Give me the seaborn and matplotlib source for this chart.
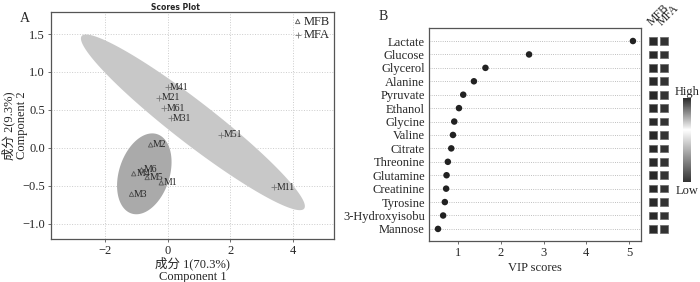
import numpy as np
import pandas as pd
import matplotlib
matplotlib.use("Agg")
import matplotlib.pyplot as plt
from matplotlib.colors import LinearSegmentedColormap, Normalize
from matplotlib.cm import ScalarMappable
import seaborn as sns

# --- data: PLS-DA scores ---
mfb_names = ["M2", "M6", "M4", "M5", "M1", "M3"]
mfb_c1 = [-0.54, -0.83, -1.08, -0.65, -0.20, -1.15]
mfb_c2 = [0.04, -0.29, -0.34, -0.39, -0.46, -0.61]

mfa_names = ["M41", "M21", "M61", "M31", "M51", "M11"]
mfa_c1 = [0.00, -0.26, -0.10, 0.10, 1.72, 3.40]
mfa_c2 = [0.80, 0.66, 0.52, 0.39, 0.17, -0.52]

# --- data: VIP scores ---
metabolites = ["Lactate", "Glucose", "Glycerol", "Alanine", "Pyruvate", "Ethanol",
               "Glycine", "Valine", "Citrate", "Threonine", "Glutamine", "Creatinine",
               "Tyrosine", "3-Hydroxyisobu", "Mannose"]
vip = [5.09, 2.66, 1.64, 1.37, 1.12, 1.02, 0.91, 0.88, 0.84, 0.76, 0.73, 0.72,
       0.69, 0.65, 0.53]
groups = ["MFB", "MFA"]
mfb_level = [1.0] * 15
mfa_level = [0.0] * 15

sns.set_style("white")
plt.rcParams["font.family"] = ["Liberation Serif", "Noto Sans CJK SC"]
plt.rcParams["axes.unicode_minus"] = True

fig = plt.figure(figsize=(7, 2.82), dpi=100)

# ---------------- Panel A ----------------
ax = fig.add_axes([0.0729, 0.1525, 0.404, 0.805])


def conf_ellipse(x, y, k=np.sqrt(5.991), n=200):
    x, y = np.asarray(x), np.asarray(y)
    cov = np.cov(x, y)
    vals, vecs = np.linalg.eigh(cov)
    t = np.linspace(0, 2 * np.pi, n)
    circ = np.vstack([np.cos(t), np.sin(t)]) * np.sqrt(vals)[:, None] * k
    pts = vecs @ circ
    return x.mean() + pts[0], y.mean() + pts[1]


ex, ey = conf_ellipse(mfa_c1, mfa_c2)
ax.fill(ex, ey, color="#c8c8c8", lw=0, zorder=1)
ex, ey = conf_ellipse(mfb_c1, mfb_c2)
ax.fill(ex, ey, color="#aaaaaa", lw=0, zorder=1)

sns.scatterplot(x=mfb_c1, y=mfb_c2, marker="^", s=10, fc="none", ec="#555555",
                linewidth=0.6, label="MFB", ax=ax, zorder=3)
sns.scatterplot(x=mfa_c1, y=mfa_c2, marker="+", s=14, color="#777777",
                linewidth=0.6, label="MFA", ax=ax, zorder=3)

for nm, x, y in zip(mfb_names + mfa_names, mfb_c1 + mfa_c1, mfb_c2 + mfa_c2):
    ax.text(x + 0.08, y, nm, fontsize=7, va="center", ha="left", zorder=4)

ax.set_xlim(-3.72, 5.31)
ax.set_ylim(-1.2, 1.79)
ax.set_xticks([-2, 0, 2, 4])
ax.set_yticks([-1.0, -0.5, 0.0, 0.5, 1.0, 1.5])
ax.set_yticklabels(["\u22121.0", "\u22120.5", "0.0", "0.5", "1.0", "1.5"])
ax.set_xticklabels(["\u22122", "0", "2", "4"])
ax.grid(True, linestyle=":", color="#cccccc", lw=0.7)
ax.set_axisbelow(True)
ax.tick_params(labelsize=9, length=2.5, width=0.6, color="#555555", pad=2,
               left=True, bottom=True)
for sp in ax.spines.values():
    sp.set_color("#555555")
    sp.set_linewidth(0.9)
ax.set_xlabel("成分 1(70.3%)\nComponent 1", fontsize=9, linespacing=1.05, va="center")
ax.xaxis.set_label_coords(0.5, -0.137)
ax.set_ylabel("成分 2(9.3%)\nComponent 2", fontsize=9, linespacing=1.05, va="center")
ax.yaxis.set_label_coords(-0.127, 0.5)
leg = ax.legend(loc="upper right", frameon=False, fontsize=9, handletextpad=0.1,
                handlelength=0.8, borderaxespad=0.2, labelspacing=0.1,
                borderpad=0.1)
fig.text(0.25, 0.99, "Scores Plot", fontsize=5.5, fontweight="bold",
         family="DejaVu Sans", ha="center", va="top")
fig.text(0.036, 0.935, "A", fontsize=10, ha="center", va="center")

# ---------------- Panel B ----------------
pos_b = [0.6129, 0.1454, 0.3029, 0.7553]
bx = fig.add_axes(pos_b)
sns.scatterplot(x=vip, y=metabolites, color="#222222", s=22, ec="none", ax=bx, zorder=3)
bx.set_xlim(0.32, 5.28)
bx.set_ylim(14.9, -0.97)
bx.set_xticks([1, 2, 3, 4, 5])
bx.grid(True, axis="y", linestyle=":", color="#aaaaaa", lw=0.6)
bx.set_axisbelow(True)
bx.tick_params(axis="x", labelsize=9, length=2.5, width=0.6, color="#555555",
               pad=2, bottom=True)
bx.tick_params(axis="y", labelsize=9, length=0, pad=3)
for sp in bx.spines.values():
    sp.set_color("#555555")
    sp.set_linewidth(0.9)
bx.set_xlabel("VIP scores", fontsize=9, labelpad=2)
bx.set_ylabel("")
fig.text(0.547, 0.94, "B", fontsize=10, ha="center", va="center")

# group level tiles
cmap = LinearSegmentedColormap.from_list(
    "hl", [(0.0, "#333333"), (0.62, "#ffffff"), (1.0, "#2a2a2a")])
norm = Normalize(0, 1)
levels = pd.DataFrame({
    "metabolite": metabolites * 2,
    "group": [groups[0]] * len(metabolites) + [groups[1]] * len(metabolites),
    "level": mfb_level + mfa_level,
})
hax = fig.add_axes([0.9257, pos_b[1], 0.030, pos_b[3]])
sns.scatterplot(data=levels, x="group", y="metabolite", hue="level", palette=cmap,
                hue_norm=norm, marker="s", s=30, ec="#666666", linewidth=0.5,
                legend=False, ax=hax)
hax.set_xlim(-0.5, 1.5)
hax.set_ylim(14.9, -0.97)
hax.set_yticks([])
hax.xaxis.tick_top()
hax.set_xticks([0, 1])
hax.set_xticklabels(groups, rotation=45, ha="left", va="bottom",
                    rotation_mode="anchor", fontsize=8.5)
hax.tick_params(axis="x", length=0, pad=0)
hax.set_xlabel("")
hax.set_ylabel("")
for sp in hax.spines.values():
    sp.set_visible(False)

cax = fig.add_axes([0.9757, 0.3546, 0.0114, 0.298])
cbar = fig.colorbar(ScalarMappable(norm=norm, cmap=cmap), cax=cax)
cbar.outline.set_visible(False)
cbar.set_ticks([])
cax.set_title("High", fontsize=9, pad=2)
cax.set_xlabel("Low", fontsize=9, labelpad=2)

fig.savefig("out.png", dpi=100)
